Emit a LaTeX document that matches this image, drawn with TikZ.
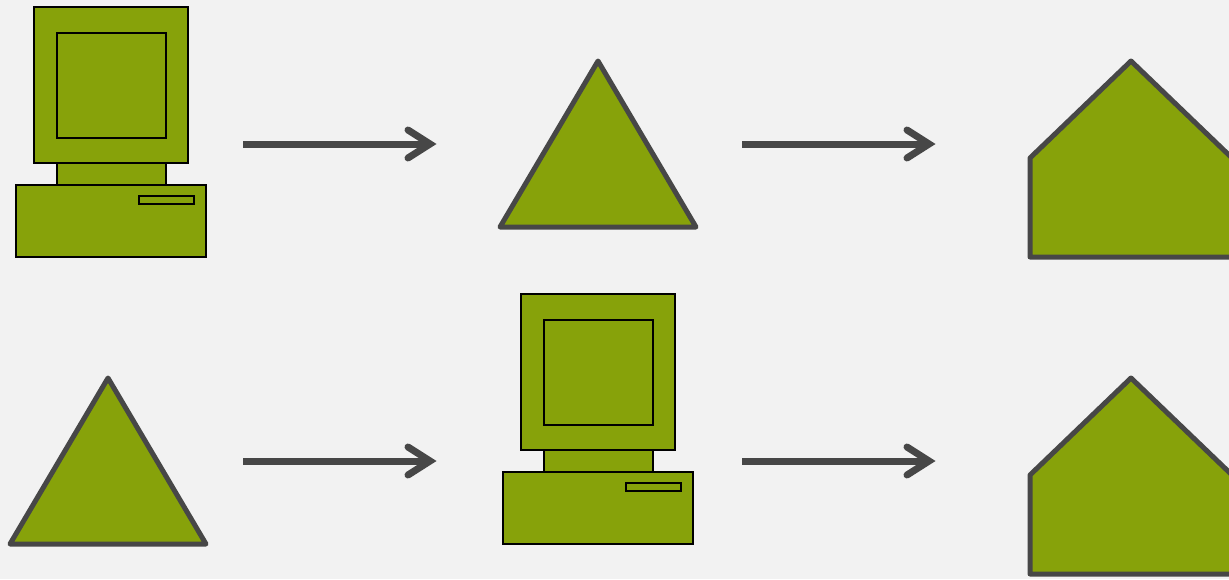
\documentclass[tikz,border=0pt]{standalone}
\usetikzlibrary{calc}
\definecolor{bg}{HTML}{F2F2F2}
\definecolor{grn}{HTML}{87A20A}
\definecolor{dk}{HTML}{474747}
\tikzset{
  px/.style={x=1pt,y=-1pt},
  gshape/.style={fill=grn,draw=dk,line width=5pt,line join=round},
  cpart/.style={fill=grn,draw=black,line width=2pt},
  arrowline/.style={draw=dk,line width=7pt,line cap=round,line join=miter},
  computer/.pic={
    \draw[cpart] (18,0) rectangle (172,156);
    \draw[cpart] (41,26) rectangle (150,131);
    \draw[cpart] (41,156) rectangle (150,178);
    \draw[cpart] (0,178) rectangle (190,250);
    \draw[cpart,line width=1.6pt] (123,189) rectangle (178,197);
  },
  tri/.pic={
    \draw[gshape] (98,0) -- (196,166) -- (0,166) -- cycle;
  },
  house/.pic={
    \draw[gshape] (101,0) -- (202,97) -- (202,196) -- (0,196) -- (0,97) -- cycle;
  },
  conn/.pic={
    \draw[arrowline,line cap=butt] (0,0) -- (184,0);
    \draw[arrowline] (165,-14) -- (187,0) -- (165,14);
  }
}
\begin{document}
\begin{tikzpicture}[px]
\useasboundingbox (0,0) rectangle (1229,579);
\fill[bg] (0,0) rectangle (1229,579);
\clip (0,0) rectangle (1229,579);
% row 1
\pic (c1) at (16,7) {computer};
\coordinate (a1) at (243,144);
\pic at (a1) {conn};
\pic (t1) at (500,61) {tri};
\coordinate (a2) at (742,144);
\pic at (a2) {conn};
\pic (h1) at (1030,61) {house};
% row 2
\pic (t2) at (10,378) {tri};
\coordinate (a3) at (243,461);
\pic at (a3) {conn};
\pic (c2) at (503,294) {computer};
\coordinate (a4) at (742,461);
\pic at (a4) {conn};
\pic (h2) at (1030,378) {house};
\end{tikzpicture}
\end{document}
